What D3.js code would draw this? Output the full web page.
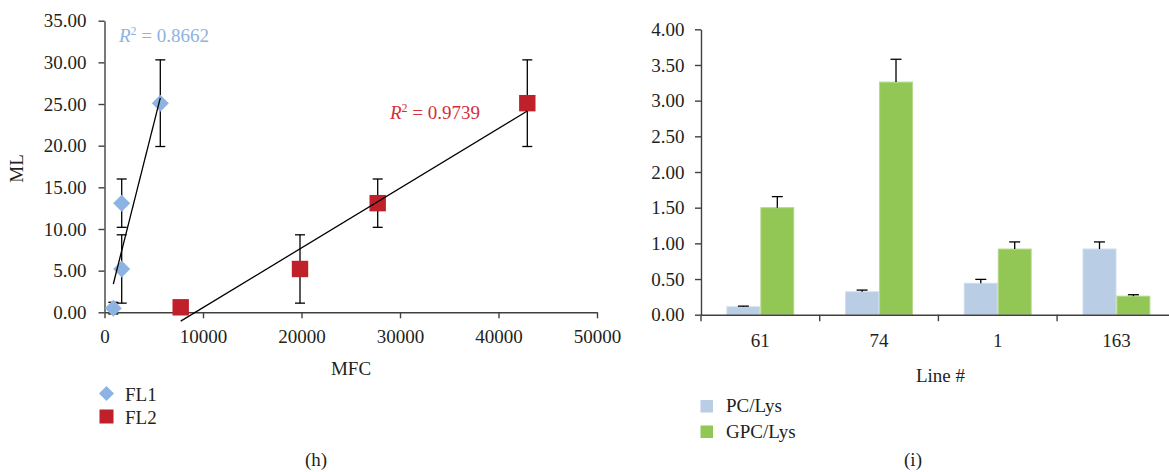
<!DOCTYPE html>
<html>
<head>
<meta charset="utf-8">
<script src="https://cdn.jsdelivr.net/npm/d3@7"></script>
<style>
  html, body { margin: 0; padding: 0; background: #fff; }
  svg { display: block; }
  text { font-family: "Liberation Serif", "DejaVu Serif", serif; fill: #231f20; }
</style>
</head>
<body>
<svg id="fig" width="1169" height="472"></svg>
<script>
// ---- Panel (h): ML vs MFC, two fluorescence channels ----
const fl1X = [893, 1746, 1746, 5665];
const fl1Y = [0.5, 5.2, 13.1, 25.1];
const fl1Err = [0.7, 4.1, 2.9, 5.2];
const fl2X = [7736, 19848, 27736, 42924];
const fl2Y = [0.6, 5.2, 13.1, 25.1];
const fl2Err = [0.5, 4.1, 2.9, 5.2];
const r2Labels = ["0.8662", "0.9739"];
const seriesNames = ["FL1", "FL2"];
const mlTicks = [0, 5, 10, 15, 20, 25, 30, 35];
const mfcTicks = [0, 10000, 20000, 30000, 40000, 50000];

// ---- Panel (i): ratios per line ----
const lineIds = ["61", "74", "1", "163"];
const pcLys = [0.11, 0.32, 0.44, 0.92];
const pcLysErr = [0.01, 0.025, 0.055, 0.10];
const gpcLys = [1.50, 3.26, 0.92, 0.26];
const gpcLysErr = [0.155, 0.32, 0.10, 0.02];
const barSeries = ["PC/Lys", "GPC/Lys"];
const ratioTicks = [0, 0.5, 1, 1.5, 2, 2.5, 3, 3.5, 4];

const AXIS = "#404040";
const BLUE = "#8db3e2";
const RED = "#c0202a";
const RED_TXT = "#d2303c";
const PC_COL = "#b9cde5";
const GPC_COL = "#92c755";
const FS = 19;

const svg = d3.select("#fig");

function styleAxis(g) {
  g.select(".domain").attr("stroke", AXIS).attr("stroke-width", 1.4);
  g.selectAll(".tick line").attr("stroke", AXIS).attr("stroke-width", 1.4);
  g.selectAll(".tick text").attr("font-size", FS).attr("font-family", "Liberation Serif").attr("fill", "#231f20");
}

// least-squares line through a set of points
function linFit(xs, ys) {
  const n = xs.length;
  const mx = d3.mean(xs), my = d3.mean(ys);
  let sxy = 0, sxx = 0;
  for (let i = 0; i < n; i++) { sxy += (xs[i] - mx) * (ys[i] - my); sxx += (xs[i] - mx) ** 2; }
  const b = sxy / sxx;
  return { slope: b, intercept: my - b * mx };
}

// ================= Panel (h) =================
{
  const x = d3.scaleLinear().domain([0, 50000]).range([104.5, 597]);
  const y = d3.scaleLinear().domain([0, 35]).range([312.3, 20.7]);
  const g = svg.append("g");

  const yAx = g.append("g").attr("transform", `translate(${x(0)},0)`)
    .call(d3.axisLeft(y).tickValues(mlTicks).tickFormat(d3.format(".2f")).tickSize(6).tickSizeOuter(0));
  styleAxis(yAx);
  yAx.selectAll(".tick text").attr("x", -18).attr("dy", "0.33em");

  const xAx = g.append("g").attr("transform", `translate(0,${y(0)})`)
    .call(d3.axisBottom(x).tickValues(mfcTicks).tickFormat(d3.format("d")).tickSize(6).tickSizeOuter(0));
  styleAxis(xAx);
  xAx.selectAll(".tick text").attr("y", 31).attr("dy", null);

  g.append("text").attr("transform", `translate(23,${(y(0) + y(35)) / 2 + 2}) rotate(-90)`)
    .attr("text-anchor", "middle").attr("font-size", FS).text("ML");
  g.append("text").attr("x", 351).attr("y", 375).attr("text-anchor", "middle")
    .attr("font-size", FS).text("MFC");

  const sets = [
    { xs: fl1X, ys: fl1Y, es: fl1Err, col: BLUE, shape: "diamond" },
    { xs: fl2X, ys: fl2Y, es: fl2Err, col: RED, shape: "square" }
  ];

  // error bars
  sets.forEach(s => {
    s.xs.forEach((xv, i) => {
      const cx = x(xv), top = y(s.ys[i] + s.es[i]), bot = y(s.ys[i] - s.es[i]);
      g.append("line").attr("x1", cx).attr("x2", cx).attr("y1", top).attr("y2", bot)
        .attr("stroke", "#000").attr("stroke-width", 1.3);
      [top, bot].forEach(yy => g.append("line").attr("x1", cx - 5).attr("x2", cx + 5)
        .attr("y1", yy).attr("y2", yy).attr("stroke", "#000").attr("stroke-width", 1.3));
    });
  });

  // markers
  sets.forEach(s => {
    s.xs.forEach((xv, i) => {
      const cx = x(xv), cy = y(s.ys[i]);
      if (s.shape === "diamond") {
        g.append("path").attr("d", `M${cx},${cy - 8.5}L${cx + 8.5},${cy}L${cx},${cy + 8.5}L${cx - 8.5},${cy}Z`)
          .attr("fill", s.col);
      } else {
        g.append("rect").attr("x", cx - 8.2).attr("y", cy - 8.2).attr("width", 16.4).attr("height", 16.4)
          .attr("fill", s.col);
      }
    });
  });

  // linear trendlines
  sets.forEach(s => {
    const f = linFit(s.xs, s.ys);
    const x0 = d3.min(s.xs), x1 = d3.max(s.xs);
    g.append("line")
      .attr("x1", x(x0)).attr("y1", y(f.intercept + f.slope * x0))
      .attr("x2", x(x1)).attr("y2", y(f.intercept + f.slope * x1))
      .attr("stroke", "#000").attr("stroke-width", 1.3);
  });

  // R² annotations
  const r2 = [
    { x: 119, y: 41.5, col: BLUE, v: r2Labels[0] },
    { x: 390, y: 118.5, col: RED_TXT, v: r2Labels[1] }
  ];
  r2.forEach(r => {
    const t = g.append("text").attr("x", r.x).attr("y", r.y).attr("font-size", FS).attr("fill", r.col);
    t.append("tspan").attr("font-style", "italic").attr("fill", r.col).text("R");
    t.append("tspan").attr("fill", r.col).attr("font-size", 12).attr("dy", -7).text("2");
    t.append("tspan").attr("fill", r.col).attr("dy", 7).text(" = " + r.v);
  });

  // legend
  const lg = g.append("g");
  lg.append("path").attr("d", "M106.5,386L114,393.5L106.5,401L99,393.5Z").attr("fill", BLUE);
  lg.append("rect").attr("x", 99.5).attr("y", 409.5).attr("width", 14).attr("height", 14).attr("fill", RED);
  lg.append("text").attr("x", 125).attr("y", 401).attr("font-size", FS).text(seriesNames[0]);
  lg.append("text").attr("x", 125).attr("y", 423.5).attr("font-size", FS).text(seriesNames[1]);

  g.append("text").attr("x", 316).attr("y", 466).attr("text-anchor", "middle").attr("font-size", FS).text("(h)");
}

// ================= Panel (i) =================
{
  const x0 = d3.scaleBand().domain(lineIds).range([701, 1175.8]).paddingInner(0).paddingOuter(0);
  const bw = x0.bandwidth();
  const barW = bw / 3.5; // two bars plus a 150% gap
  const x1 = d3.scaleBand().domain(barSeries).range([(bw - 2 * barW) / 2, (bw + 2 * barW) / 2]);
  const y = d3.scaleLinear().domain([0, 4]).range([314.7, 29.3]);
  const g = svg.append("g");

  const vals = [pcLys, gpcLys], errs = [pcLysErr, gpcLysErr], cols = [PC_COL, GPC_COL];
  const strokes = ["#cbdaec", "#b4d98b"];

  // bars
  barSeries.forEach((s, si) => {
    g.append("g").selectAll("rect").data(lineIds).join("rect")
      .attr("x", d => x0(d) + x1(s) + 0.5)
      .attr("y", (d, i) => y(vals[si][i]))
      .attr("width", x1.bandwidth() - 1)
      .attr("height", (d, i) => y(0) - y(vals[si][i]))
      .attr("fill", cols[si]).attr("stroke", strokes[si]).attr("stroke-width", 1);
  });

  // upper error bars
  barSeries.forEach((s, si) => {
    lineIds.forEach((d, i) => {
      const cx = x0(d) + x1(s) + x1.bandwidth() / 2;
      const top = y(vals[si][i] + errs[si][i]), base = y(vals[si][i]);
      g.append("line").attr("x1", cx).attr("x2", cx).attr("y1", top).attr("y2", base)
        .attr("stroke", "#000").attr("stroke-width", 1.3);
      g.append("line").attr("x1", cx - 5.5).attr("x2", cx + 5.5).attr("y1", top).attr("y2", top)
        .attr("stroke", "#000").attr("stroke-width", 1.3);
    });
  });

  const yAx = g.append("g").attr("transform", `translate(${x0.range()[0]},0)`)
    .call(d3.axisLeft(y).tickValues(ratioTicks).tickFormat(d3.format(".2f")).tickSize(6).tickSizeOuter(0));
  styleAxis(yAx);
  yAx.selectAll(".tick text").attr("x", -16.5).attr("dy", "0.33em");

  const xAx = g.append("g").attr("transform", `translate(0,${y(0)})`)
    .call(d3.axisBottom(x0).tickSize(0).tickSizeOuter(0));
  styleAxis(xAx);
  xAx.selectAll(".tick text").attr("y", 32).attr("dy", null);

  // category boundary ticks
  const bounds = lineIds.map(d => x0(d)).concat([x0.range()[1]]);
  g.append("g").selectAll("line").data(bounds).join("line")
    .attr("x1", d => d).attr("x2", d => d).attr("y1", y(0)).attr("y2", y(0) + 6.5)
    .attr("stroke", AXIS).attr("stroke-width", 1.4);

  g.append("text").attr("x", 940.5).attr("y", 381.5).attr("text-anchor", "middle").attr("font-size", FS).text("Line #");

  const lg = g.append("g");
  barSeries.forEach((s, si) => {
    const yy = 400 + si * 25.5;
    lg.append("rect").attr("x", 700.5).attr("y", yy).attr("width", 12.5).attr("height", 12.5).attr("fill", cols[si]);
    lg.append("text").attr("x", 726).attr("y", yy + 12).attr("font-size", FS).text(s);
  });

  g.append("text").attr("x", 913).attr("y", 466).attr("text-anchor", "middle").attr("font-size", FS).text("(i)");
}
</script>
</body>
</html>
